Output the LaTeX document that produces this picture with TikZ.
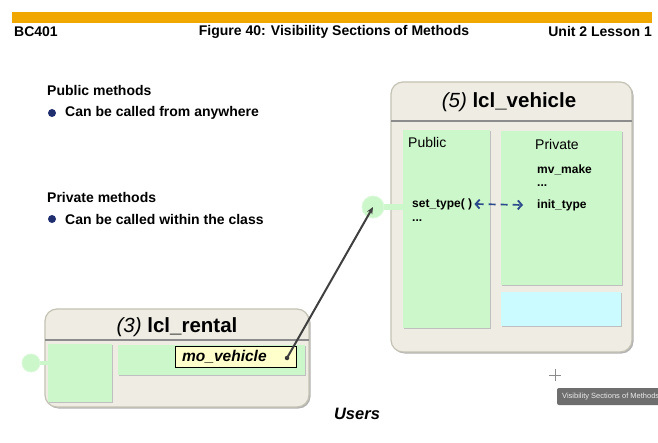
\documentclass[tikz,border=0pt]{standalone}
\usepackage{fontspec}
\setmainfont{Liberation Sans}
\usetikzlibrary{arrows.meta, shadows}
\definecolor{sapgold}{HTML}{F0A800}
\definecolor{beige}{HTML}{EFEDE3}
\definecolor{beigeline}{HTML}{C4C2B4}
\definecolor{mint}{HTML}{CCF7CA}
\definecolor{aqua}{HTML}{CCFBFF}
\definecolor{cream}{HTML}{FFFFCC}
\definecolor{navy}{HTML}{1F2E6E}
\definecolor{dashblue}{HTML}{2B4A8C}
\definecolor{tipgray}{HTML}{6E6E6E}

\tikzset{
  fsize/.style={font=\fontsize{#1}{#1}\selectfont},
  classbox/.style={draw=beigeline, fill=beige, line width=1.2pt, rounded corners=12pt,
    inner sep=0pt, outer sep=0pt, anchor=north west,
    drop shadow={shadow xshift=1.5pt, shadow yshift=-1.5pt, fill=black!30, opacity=1}},
  mintbox/.style={fill=mint, inner sep=0pt, outer sep=0pt, anchor=north west,
    drop shadow={shadow xshift=1.2pt, shadow yshift=-1.2pt, fill=black!25, opacity=1}},
  headline/.style={draw=black!45, line width=1.2pt},
  boldtext/.style={anchor=west, inner sep=0pt, font=\fontsize{#1}{#1}\selectfont\bfseries},
  plaintext/.style={anchor=west, inner sep=0pt, font=\fontsize{#1}{#1}\selectfont},
  bulletdot/.style={circle, fill=navy, inner sep=0pt, minimum size=8pt},
  portdot/.style={circle, fill=mint, draw=mint!70!white, line width=0.8pt, inner sep=0pt},
  callarrow/.style={draw=black!75, line width=2pt, -{Stealth[length=7pt, width=6pt]}},
  innercall/.style={draw=dashblue, line width=1.7pt, dash pattern=on 7pt off 5pt,
    {Straight Barb[length=4pt, width=9pt, line width=1.8pt]}-{Straight Barb[length=4pt, width=9pt, line width=1.8pt]}}
}

\begin{document}
\begin{tikzpicture}[x=1pt, y=-1pt]

    % Page frame
    \useasboundingbox[fill=white] (0,0) rectangle (658,443);

    % Draw the header bar and its texts
    \fill[sapgold] (12,12) rectangle (652,23);
    \node[boldtext=14] (course) at (14,32) {BC401};
    \node[boldtext=14, anchor=center] (figtitle) at (334,32) {Figure 40: Visibility Sections of Methods};
    \node[boldtext=14, anchor=east] (unit) at (652,32) {Unit 2 Lesson 1};

    % Draw the explanation on the left
    \node[boldtext=14] (pubhead) at (47,91) {Public methods};
    \node[bulletdot] (pubbullet) at (52,113) {};
    \node[boldtext=14] (pubtext) at (65,113) {Can be called from anywhere};
    \node[boldtext=14] (privhead) at (47,197) {Private methods};
    \node[bulletdot] (privbullet) at (52,219) {};
    \node[boldtext=14] (privtext) at (65,219) {Can be called within the class};

    % Draw the class lcl_vehicle
    \node[classbox, minimum width=241pt, minimum height=270pt] (vehicle) at (391,82) {};
    \draw[headline] (391,121) -- (632,121);
    \node[fsize=20.5] (vtitle) at (509,102) {\textit{(5)} \textbf{lcl\_vehicle}};
    \node[mintbox, minimum width=87pt, minimum height=198pt] (vpublic) at (403,130) {};
    \node[mintbox, minimum width=121pt, minimum height=154pt] (vprivate) at (501,131) {};
    \node[mintbox, fill=aqua, minimum width=120pt, minimum height=34pt] (vextra) at (501,292) {};
    \node[plaintext=14] (publabel) at (408,142) {Public};
    \node[plaintext=14] (privlabel) at (535,144) {Private};
    \node[boldtext=12] (mvmake) at (537,170) {mv\_make};
    \node[boldtext=12] (privdots) at (537,186) {...};
    \node[boldtext=12] (inittype) at (537,205) {init\_type};
    \node[boldtext=12] (settype) at (412,204) {set\_type( )};
    \node[boldtext=12] (pubdots) at (412,221) {...};

    % Port of lcl_vehicle
    \fill[mint] (382,204) rectangle (404,210);
    \node[portdot, minimum size=22pt] (vport) at (373,207) {};

    % Draw the class lcl_rental
    \node[classbox, minimum width=264pt, minimum height=98pt] (rental) at (45,309) {};
    \draw[headline] (45,340) -- (309,340);
    \node[fsize=20.5] (rtitle) at (177,327) {\textit{(3)} \textbf{lcl\_rental}};
    \node[mintbox, minimum width=64pt, minimum height=58pt] (rleft) at (48,344) {};
    \node[mintbox, minimum width=187pt, minimum height=30pt] (rright) at (118,345) {};
    \node[draw=black, line width=0.9pt, fill=cream, inner sep=0pt, anchor=north west,
      minimum width=121pt, minimum height=21pt] (attrbox) at (175,346) {};
    \node[anchor=west, inner sep=0pt, font=\fontsize{15.5}{15.5}\selectfont\bfseries\itshape] (movehicle) at (182,357) {mo\_vehicle};
    \node[circle, fill=black!80, inner sep=0pt, minimum size=4.5pt] (refdot) at (287,358) {};

    % Port of lcl_rental
    \fill[mint] (36,361) rectangle (49,365);
    \node[portdot, minimum size=18pt] (rport) at (31,363) {};

    % Draw the calls
    \draw[callarrow] (refdot.center) -- (vport.center);
    \draw[innercall] ([xshift=2pt]settype.east) -- ([xshift=-14pt]inittype.west);

    \node[anchor=center, inner sep=0pt, font=\fontsize{16.5}{16.5}\selectfont\bfseries\itshape] (users) at (357,414) {Users};

    % Cursor and tooltip of the screenshot
    \draw[black!45, line width=0.8pt] (549,375) -- (561,375) (555,369) -- (555,381);
    \fill[tipgray, rounded corners=2pt] (557,388) rectangle (672,405);
    \node[plaintext=7.5, text=white!92!black] (tooltip) at (562,396.5) {Visibility Sections of Methods};

\end{tikzpicture}
\end{document}
